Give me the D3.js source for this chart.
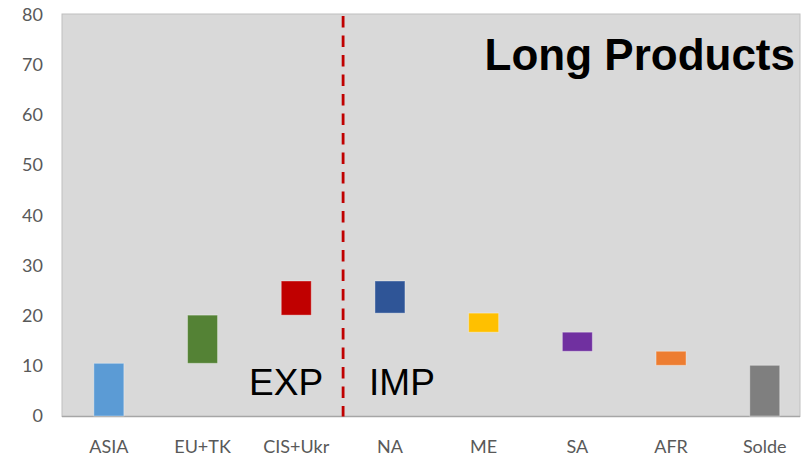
<!DOCTYPE html>
<html>
<head>
<meta charset="utf-8">
<script src="https://cdn.jsdelivr.net/npm/d3@7"></script>
<style>
  html, body { margin: 0; padding: 0; background: #fff; }
  svg { display: block; }
</style>
</head>
<body>
<svg id="chart" width="801" height="457"></svg>
<script>
// Regions in drawing order: exporters, importers, then the net balance
const categories = ["ASIA", "EU+TK", "CIS+Ukr", "NA", "ME", "SA", "AFR", "Solde"];
// Signed flows (Mt): exports add, imports subtract; Solde is a total bar
const flows = [10.5, 9.6, 6.8, -6.4, -3.8, -3.8, -2.8, null];
const isTotal = [false, false, false, false, false, false, false, true];
const colors = ["#5b9bd5", "#548235", "#c00000", "#2f5597", "#ffc000", "#7030a0", "#ed7d31", "#7f7f7f"];
const yTicks = [0, 10, 20, 30, 40, 50, 60, 70, 80];

// Build waterfall segments
let running = 0;
const segments = categories.map((c, i) => {
  let y0, y1;
  if (isTotal[i]) { y0 = 0; y1 = running; }
  else { y0 = running; running += flows[i]; y1 = running; }
  return { cat: c, lo: Math.min(y0, y1), hi: Math.max(y0, y1), color: colors[i] };
});

const svg = d3.select("#chart");
const plot = { left: 62, right: 800, top: 14, bottom: 416.5 };

const x = d3.scaleBand().domain(categories).range([62, 811.6]).paddingInner(0.68).paddingOuter(0.34);
const y = d3.scaleLinear().domain([0, 80]).range([416, 14.5]);

// Plot background
svg.append("rect")
  .attr("x", plot.left).attr("y", plot.top)
  .attr("width", plot.right - plot.left).attr("height", plot.bottom - plot.top)
  .attr("fill", "#d9d9d9")
  .attr("stroke", "#bfbfbf").attr("stroke-width", 1);

// Baseline
svg.append("line")
  .attr("x1", plot.left).attr("x2", plot.right)
  .attr("y1", plot.bottom).attr("y2", plot.bottom)
  .attr("stroke", "#a6a6a6").attr("stroke-width", 1.5);

// Y axis labels
const yAxis = d3.axisLeft(y).tickValues(yTicks).tickSize(0).tickPadding(0);
const gy = svg.append("g").attr("transform", "translate(43,0)").call(yAxis);
gy.select(".domain").remove();
gy.selectAll("text")
  .attr("fill", "#595959")
  .style("font-family", "Lato, 'Open Sans', sans-serif")
  .style("font-size", "18px");

// X axis labels
const xAxis = d3.axisBottom(x).tickSize(0).tickPadding(0);
const gx = svg.append("g").attr("transform", "translate(0,440)").call(xAxis);
gx.select(".domain").remove();
gx.selectAll("text")
  .attr("fill", "#595959")
  .attr("dy", "0.71em")
  .style("font-family", "Lato, 'Open Sans', sans-serif")
  .style("font-size", "18px");

// Waterfall bars
svg.append("g").selectAll("rect")
  .data(segments)
  .join("rect")
  .attr("x", d => x(d.cat))
  .attr("width", x.bandwidth())
  .attr("y", d => y(d.hi))
  .attr("height", d => y(d.lo) - y(d.hi))
  .attr("fill", d => d.color)
  .attr("stroke", "rgba(255,255,255,0.35)")
  .attr("stroke-width", 1);

// Divider between exporters and importers
const divX = (x("CIS+Ukr") + x.bandwidth() / 2 + x("NA") + x.bandwidth() / 2) / 2;
svg.append("line")
  .attr("x1", divX).attr("x2", divX)
  .attr("y1", 16).attr("y2", plot.bottom)
  .attr("stroke", "#c00000").attr("stroke-width", 2.8)
  .attr("stroke-dasharray", "11.5,8");

// Section labels
svg.append("text")
  .attr("x", divX - 20).attr("y", 395)
  .attr("text-anchor", "end")
  .style("font-family", "'Liberation Sans', Arial, sans-serif")
  .style("font-size", "37px")
  .attr("fill", "#000")
  .text("EXP");
svg.append("text")
  .attr("x", divX + 26).attr("y", 395)
  .style("font-family", "'Liberation Sans', Arial, sans-serif")
  .style("font-size", "37px")
  .attr("fill", "#000")
  .text("IMP");

// Title
svg.append("text")
  .attr("x", 795).attr("y", 70)
  .attr("text-anchor", "end")
  .style("font-family", "'Liberation Sans', Arial, sans-serif")
  .style("font-size", "44px")
  .style("font-weight", "bold")
  .attr("fill", "#000")
  .text("Long Products");
</script>
</body>
</html>
